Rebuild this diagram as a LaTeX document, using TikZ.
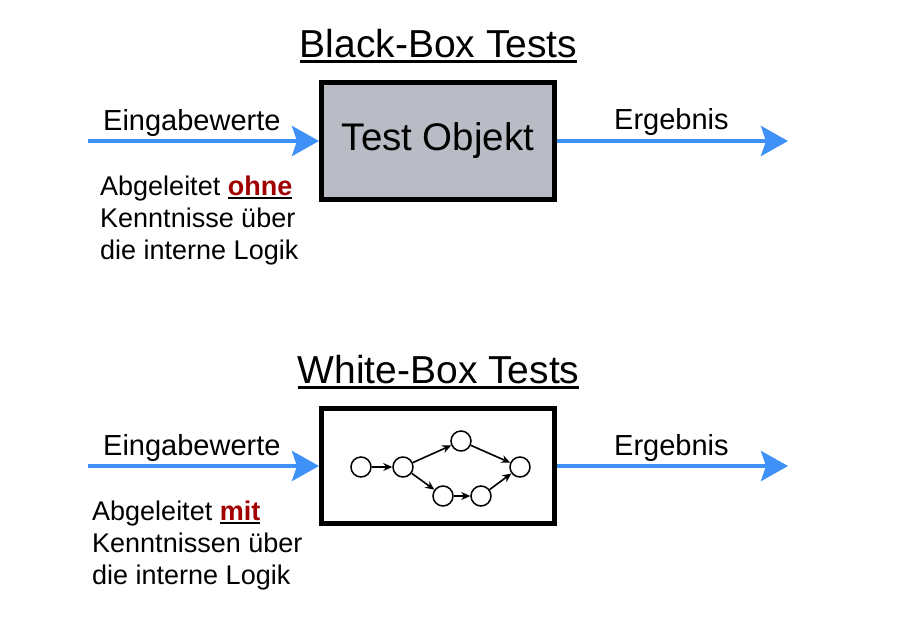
\documentclass[tikz,border=0pt]{standalone}
\usepackage{fontspec}
\setmainfont{Liberation Sans}
\usetikzlibrary{arrows.meta}
\definecolor{pfeilblau}{RGB}{64,145,247}
\definecolor{boxgrau}{RGB}{185,188,196}
\definecolor{dunkelrot}{RGB}{160,0,0}
\newcommand\ulwort[3]{\setbox0\hbox{#3}\rlap{\rule[-#1]{\wd0}{#2}}\box0}
\tikzset{
  titel/.style={font=\fontsize{39}{42}\selectfont, inner sep=0pt, anchor=base},
  testbox/.style={draw, line width=5pt, minimum width=233pt, inner sep=0pt},
  fluss/.style={draw=pfeilblau, line width=4pt, -{Stealth[length=27pt,width=30pt,inset=5pt]}},
  etikett/.style={font=\fontsize{29}{32}\selectfont, inner sep=0pt},
  erklaerung/.style={font=\fontsize{27}{32}\selectfont, inner sep=0pt, anchor=north west, align=left},
  knoten/.style={circle, draw, line width=1.5pt, minimum size=20pt, inner sep=0pt},
  kante/.style={line width=1.6pt, -{Stealth[length=9pt,width=8pt]}}
}
\begin{document}
\begin{tikzpicture}[x=1pt,y=-1pt]
  \useasboundingbox (0,0) rectangle (908,638);
  % Black-Box
  \node[titel] (bbtitel) at (438.5,57) {\ulwort{6pt}{3pt}{Black-Box Tests}};
  \node[testbox, fill=boxgrau, minimum height=117pt, font=\fontsize{38.5}{42}\selectfont] (bbox) at (438,141) {Test Objekt};
  \coordinate (bbin) at (88,141);
  \coordinate (bbout) at (788,141);
  \draw[fluss] (bbin) -- (bbox.west);
  \draw[fluss] (bbox.east) -- (bbout);
  \node[etikett, anchor=base west] (bbein) at (103,130) {Eingabewerte};
  \node[etikett, anchor=base west] (bberg) at (614,129) {Ergebnis};
  \node[erklaerung] (bbtext) at (100,176)
    {Abgeleitet \ulwort{3pt}{2pt}{\textcolor{dunkelrot}{\bfseries ohne}}\\Kenntnisse über\\die interne Logik};
  % White-Box
  \node[titel] (wbtitel) at (438.5,383) {\ulwort{6pt}{3pt}{White-Box Tests}};
  \node[testbox, minimum height=115pt] (wbox) at (438,466) {};
  \coordinate (wbin) at (88,466);
  \coordinate (wbout) at (788,466);
  \draw[fluss] (wbin) -- (wbox.west);
  \draw[fluss] (wbox.east) -- (wbout);
  \node[etikett, anchor=base west] (wbein) at (103,455) {Eingabewerte};
  \node[etikett, anchor=base west] (wberg) at (614,455) {Ergebnis};
  \node[erklaerung] (wbtext) at (92,501)
    {Abgeleitet \ulwort{3pt}{2pt}{\textcolor{dunkelrot}{\bfseries mit}}\\Kenntnissen über\\die interne Logik};
  % Ablaufgraph
  \node[knoten] (k1) at (361,467) {};
  \node[knoten] (k2) at (403,467) {};
  \node[knoten] (k3) at (461,441) {};
  \node[knoten] (k4) at (443,496) {};
  \node[knoten] (k5) at (481,496) {};
  \node[knoten] (k6) at (520,467) {};
  \foreach \a/\b in {k1/k2,k2/k3,k2/k4,k4/k5,k3/k6,k5/k6}
    \draw[kante] (\a) -- (\b);
\end{tikzpicture}
\end{document}
